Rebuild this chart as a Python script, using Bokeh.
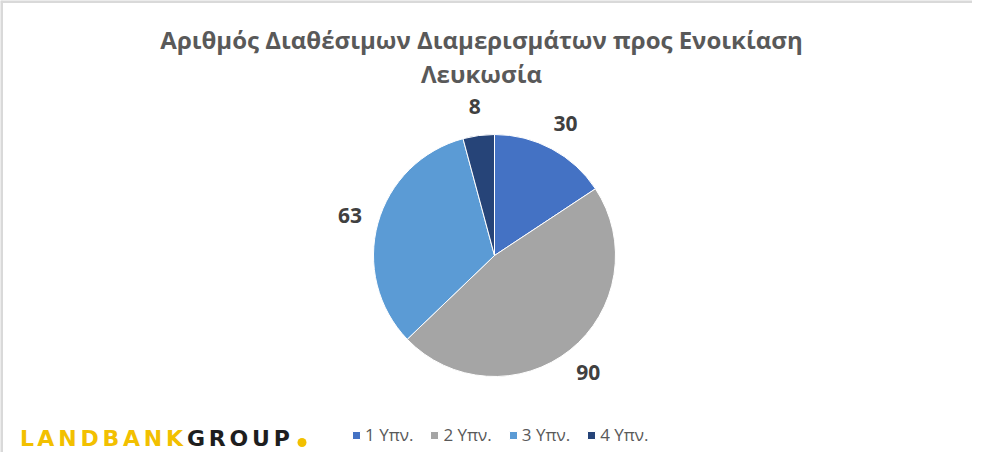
import numpy as np
from bokeh.plotting import figure
from bokeh.models import Range1d, Legend, LegendItem, ColumnDataSource, Span
from bokeh.core.properties import value
from bokeh.embed import file_html
from bokeh.resources import INLINE

# ---- data ----
categories = ["1 Υπν.", "2 Υπν.", "3 Υπν.", "4 Υπν."]
counts = [30, 90, 63, 8]
colors = ["#4472C4", "#A5A5A5", "#5B9BD5", "#264478"]
title_lines = ["Αριθμός Διαθέσιμων Διαμερισμάτων προς Ενοικίαση", "Λευκωσία"]
logo_yellow = "LANDBANK"
logo_dark = "GROUP"

W, H = 972, 452
p = figure(width=W, height=H, output_backend="svg", toolbar_location=None,
           x_range=Range1d(0, W), y_range=Range1d(0, H), min_border=0)
p.axis.visible = False
p.grid.visible = False
p.outline_line_color = None
p.background_fill_color = "white"
p.border_fill_color = "white"
p.add_layout(Span(location=1, dimension="height", line_color="#D9D9D9", line_width=3))
p.add_layout(Span(location=H - 1, dimension="width", line_color="#D9D9D9", line_width=3))

# ---- pie ----
cx, cy, r = 494, H - 255, 121
vals = np.array(counts, dtype=float)
total = vals.sum()
cum = np.concatenate([[0], np.cumsum(vals)])
start = np.pi / 2 - cum[:-1] / total * 2 * np.pi
end = np.pi / 2 - cum[1:] / total * 2 * np.pi
mid = (start + end) / 2

renderers = []
for i in range(len(counts)):
    rr = p.wedge(x=cx, y=cy, radius=r, start_angle=start[i], end_angle=end[i],
                 direction="clock", fill_color=colors[i], line_color="white",
                 line_width=1)
    renderers.append(rr)

rl = 150
lab = ColumnDataSource(dict(x=cx + rl * np.cos(mid), y=cy + rl * np.sin(mid),
                            t=[str(c) for c in counts]))
p.text(x="x", y="y", text="t", source=lab, text_align="center",
       text_baseline="middle", text_font=value("Open Sans"),
       text_font_style="bold", text_font_size="21px", text_color="#404040")

# ---- title ----
p.text(x=[481, 481], y=[H - 39, H - 73], text=title_lines,
       text_align="center", text_baseline="middle",
       text_font=value("Open Sans"), text_font_style="bold",
       text_font_size="24px", text_color="#595959")

# ---- legend ----
legend = Legend(items=[LegendItem(label=categories[i], renderers=[renderers[i]])
                       for i in range(len(categories))],
                orientation="horizontal", location=(351, 6),
                glyph_width=10, glyph_height=10, label_standoff=4, spacing=16,
                padding=0, margin=0, border_line_color=None,
                background_fill_alpha=0,
                label_text_font="Open Sans", label_text_font_size="17px",
                label_text_color="#595959")
p.add_layout(legend)

# ---- logo ----
letters = list(logo_yellow + logo_dark)
adv = {"L": .637, "A": .774, "N": .837, "D": .830, "B": .762, "K": .775,
       "G": .821, "R": .770, "O": .850, "U": .812, "P": .733}
w = np.array([adv[c] for c in letters])
span_l, span_r = 18, 291
scale = (span_r - span_l) / w.sum()
lx = span_l + (np.cumsum(w) - w / 2) * scale
lc = ["#F2C000"] * len(logo_yellow) + ["#1E1E1E"] * len(logo_dark)
p.text(x=lx, y=[H - 438] * len(letters), text=letters, text_color=lc,
       text_align="center", text_baseline="middle",
       text_font=value("DejaVu Sans"), text_font_style="bold",
       text_font_size="22px")
p.scatter(x=[301.5], y=[H - 442], size=9, marker="circle",
          fill_color="#F2C000", line_color=None)

open("out.html", "w").write(file_html(p, INLINE))
